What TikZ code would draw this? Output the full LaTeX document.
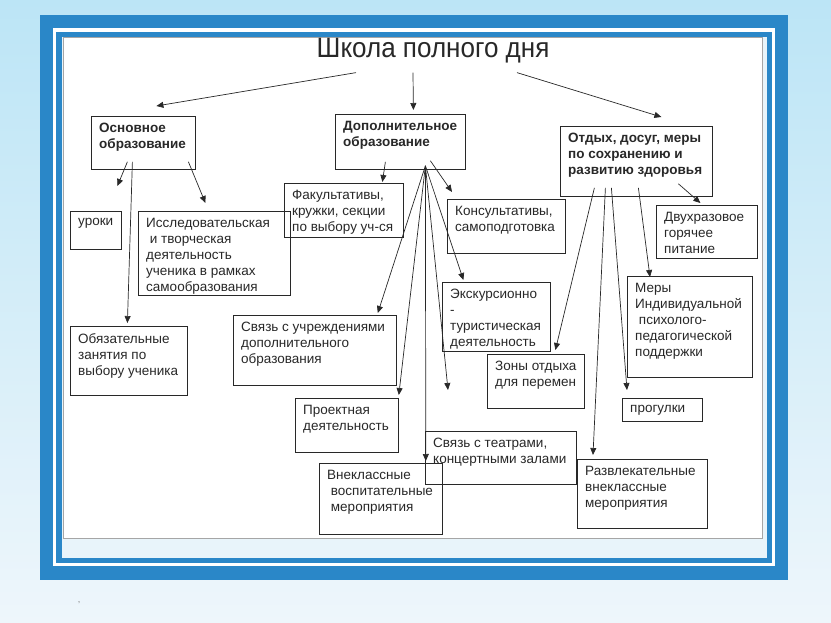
\documentclass[tikz,border=0pt]{standalone}
\usepackage{fontspec}
\setmainfont{Liberation Sans}
\newfontfamily\titlefont[FakeStretch=0.93]{Liberation Sans}
\usetikzlibrary{arrows.meta,calc}
\definecolor{frameblue}{RGB}{42,135,200}
\definecolor{skytop}{RGB}{188,229,246}
\definecolor{skybot}{RGB}{238,246,251}
\definecolor{strip}{RGB}{232,244,250}
\definecolor{ink}{RGB}{40,40,40}

\begin{document}
\begin{tikzpicture}[
  x=1pt, y=-1pt,
  font=\fontsize{13.5}{16}\selectfont,
  box/.style={draw=ink, line width=0.8pt, anchor=north west, inner sep=0pt},
  txt/.style={anchor=north west, align=left, inner xsep=8pt, inner ysep=7pt, text=ink},
  head/.style={txt, font=\fontsize{13.5}{16}\selectfont\bfseries},
  ar/.style={-{Triangle[length=7pt,width=6pt]}, line width=0.7pt, ink}
]
% slide frame
\shade[top color=skytop, bottom color=skybot] (0,0) rectangle (831,623);
\useasboundingbox (0,0) rectangle (831,623);
\fill[frameblue] (40,15) rectangle (788,580);
\fill[white] (53,28) rectangle (775,566);
\fill[frameblue] (56,32) rectangle (772,563);
\fill[strip] (62,37) rectangle (767,558);
\fill[white, draw=gray!70] (63,37) rectangle (762,538);

\node[font=\titlefont\fontsize{28}{32}\selectfont, text=ink, inner sep=4pt] (title) at (433,51) {Школа полного дня};

% three main branches
\node[box, minimum width=104pt, minimum height=53pt, label={[head]north west:{Основное\\образование}}] (osn) at (91,116) {};
\node[box, minimum width=130pt, minimum height=55pt, label={[head]north west:{Дополнительное\\образование}}] (dop) at (335,114) {};
\node[box, minimum width=152pt, minimum height=70pt, label={[head]north west:{Отдых, досуг, меры\\по сохранению и\\развитию здоровья}}] (otd) at (560,126) {};

% left column
\node[box, minimum width=51pt, minimum height=38pt, label={[txt]north west:{уроки}}] (urok) at (70,211) {};
\node[box, minimum width=152pt, minimum height=84pt, label={[txt]north west:{Исследовательская\\\ и творческая\\деятельность\\ученика в рамках\\самообразования}}] (issl) at (138,211) {};
\node[box, minimum width=117pt, minimum height=69pt, label={[txt]north west:{Обязательные\\занятия по\\выбору ученика}}] (obyaz) at (70,326) {};

% middle column
\node[box, minimum width=119pt, minimum height=54pt, label={[txt]north west:{Факультативы,\\кружки, секции\\по выбору уч-ся}}] (fak) at (284,183) {};
\node[box, minimum width=118pt, minimum height=54pt, label={[txt]north west:{Консультативы,\\самоподготовка}}] (kons) at (447,199) {};
\node[box, minimum width=108pt, minimum height=69pt, label={[txt]north west:{Экскурсионно\\-\\туристическая\\деятельность}}] (eksk) at (442,282) {};
\node[box, minimum width=163pt, minimum height=70pt, label={[txt]north west:{Связь с учреждениями\\дополнительного\\образования}}] (svu) at (233,315) {};
\node[box, minimum width=103pt, minimum height=54pt, label={[txt]north west:{Проектная\\деятельность}}] (proekt) at (295,398) {};
\node[box, minimum width=151pt, minimum height=53pt, label={[txt]north west:{Связь с театрами,\\концертными залами}}] (teatr) at (425,431) {};
\node[box, minimum width=123pt, minimum height=71pt, label={[txt]north west:{Внеклассные\\\ воспитательные\\\ мероприятия}}] (vnekl) at (319,463) {};

% right column
\node[box, minimum width=97pt, minimum height=54pt, label={[txt]north west:{Зоны отдыха\\для перемен}}] (zony) at (487,354) {};
\node[box, minimum width=101pt, minimum height=53pt, label={[txt]north west:{Двухразовое\\горячее\\питание}}] (dvuh) at (656,205) {};
\node[box, minimum width=125pt, minimum height=101pt, label={[txt]north west:{Меры\\Индивидуальной\\\ психолого-\\педагогической\\поддержки}}] (mery) at (627,276) {};
\node[box, minimum width=80pt, minimum height=23pt, label={[txt]north west:{прогулки}}] (progul) at (622,398) {};
\node[box, minimum width=130pt, minimum height=69pt, label={[txt]north west:{Развлекательные\\внеклассные\\мероприятия}}] (razvl) at (577,459) {};

\node[text=gray, font=\fontsize{9}{10}\selectfont] (mark) at (79,603) {,};

\coordinate (fan) at ([xshift=25pt,yshift=4pt]dop.south);
\coordinate (loose) at (448,390);

% from the title
\draw[ar] ([xshift=-77pt,yshift=-5pt]title.south) -- ([xshift=13pt,yshift=10pt]osn.north);
\draw[ar] ([xshift=-20pt,yshift=-5pt]title.south) -- ([xshift=13pt,yshift=4pt]dop.north);
\draw[ar] ([xshift=84pt,yshift=-5pt]title.south) -- ([xshift=25pt,yshift=9pt]otd.north);

% basic education
\draw[ar] ([xshift=-16pt,yshift=8pt]osn.south) -- ([xshift=21.5pt,yshift=25pt]urok.north);
\draw[ar] ([xshift=-11pt,yshift=8pt]osn.south) -- ([xshift=-1.5pt,yshift=3pt]obyaz.north);
\draw[ar] ([xshift=45pt,yshift=8pt]osn.south) -- ([xshift=-9pt,yshift=8pt]issl.north);

% additional education
\draw[ar] ([xshift=-15pt,yshift=8pt]dop.south) -- ([xshift=38.5pt,yshift=1pt]fak.north);
\draw[ar] ([xshift=30pt,yshift=9pt]dop.south) -- ([xshift=5pt,yshift=7pt]kons.north west);
\draw[ar] (fan) -- ([xshift=-19pt,yshift=2pt]svu.north east);
\draw[ar] (fan) -- ([yshift=3pt]proekt.north east);
\draw[ar] (fan) -- ([xshift=-17pt,yshift=2pt]vnekl.north east);
\draw[ar] (fan) -- (loose);
\draw[ar] (fan) -- ([xshift=-33pt,yshift=2pt]eksk.north);

% leisure and health
\draw[ar] ([xshift=42pt,yshift=13pt]otd.south) -- ([xshift=-6.5pt,yshift=2pt]dvuh.north);
\draw[ar] ([xshift=2pt,yshift=9pt]otd.south) -- ([xshift=23pt,yshift=-1pt]mery.north west);
\draw[ar] ([xshift=-25pt,yshift=9pt]otd.south) -- ([xshift=5pt,yshift=8pt]progul.north west);
\draw[ar] ([xshift=-31pt,yshift=9pt]otd.south) -- ([xshift=16pt,yshift=4pt]razvl.north west);
\draw[ar] ([xshift=-42pt,yshift=9pt]otd.south) -- ([xshift=19.5pt,yshift=4pt]zony.north);
\end{tikzpicture}
\end{document}
